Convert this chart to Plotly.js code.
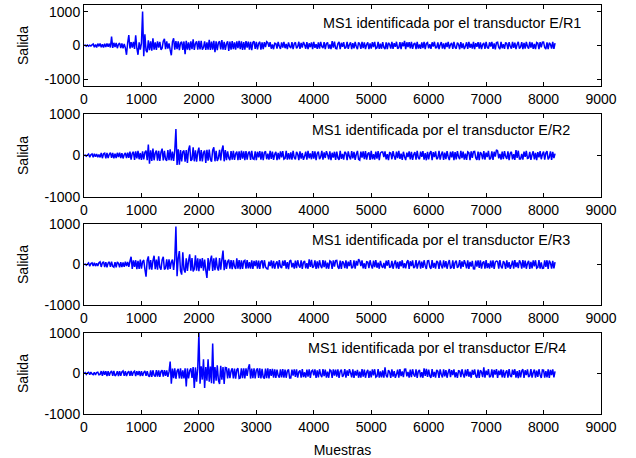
<!DOCTYPE html>
<html>
<head>
<meta charset="utf-8">
<script src="https://cdn.plot.ly/plotly-3.0.1.min.js"></script>
<style>html,body{margin:0;padding:0;background:#fff;}#chart{width:636px;height:458px;}</style>
</head>
<body>
<div id="chart"></div>
<script>
// Values every 20 samples
const sampleStart = 0;
const sampleStep = 20;

const panelTitles = [
  "MS1 identificada por el transductor E/R1",
  "MS1 identificada por el transductor E/R2",
  "MS1 identificada por el transductor E/R3",
  "MS1 identificada por el transductor E/R4"
];
const xTickVals = [0,1000,2000,3000,4000,5000,6000,7000,8000,9000];
const yTickVals = [-1000,0,1000];
const xLabel = "Muestras";
const yLabel = "Salida";

const salidaER1 = [
0,12,-18,15,-20,10,-15,18,45,-50,30,-60,55,-25,60,-55,40,-60,50,-45,
60,-35,55,-60,265,-70,80,-45,75,-80,35,70,-75,60,-80,45,-70,-275,80,310,
-90,100,-60,110,-100,300,-80,-275,95,-120,60,1010,-320,330,-150,-200,150,-140,120,-150,
215,-120,90,-130,120,-60,110,-125,-80,130,200,-110,120,-95,60,-130,-290,110,215,-120,
130,-110,125,-135,70,110,-130,120,-255,140,-120,90,-140,120,-110,180,-130,60,125,-120,
135,-115,140,-125,-60,120,-130,95,-120,170,-130,115,-125,135,-200,120,-140,80,125,-115,
160,-120,110,-130,50,125,-160,115,-120,130,-110,90,-125,120,-75,135,-110,125,-130,100,
-120,130,-60,115,-125,110,-140,90,125,-100,105,-115,60,110,-120,95,-105,100,-50,115,
85,-40,100,-95,30,-110,70,60,-90,105,-20,-100,95,-65,110,-80,45,-105,90,-30,
-75,100,-110,50,95,-85,-35,110,-100,75,-60,105,20,-95,100,-110,65,-50,90,-105,
110,-70,40,-100,95,-90,105,-25,-80,100,-110,55,90,-95,35,-105,130,-60,115,-85,
-95,60,105,-110,80,-40,100,-90,-55,110,-100,25,95,-105,70,-85,105,-30,-110,90,
45,-100,110,-80,95,-105,30,90,-110,65,-95,100,-45,105,-90,-70,110,-100,55,-95,
100,-60,-105,95,-110,80,35,-90,105,-100,70,-40,110,-95,-65,100,-105,90,-25,135,
-110,95,-50,100,-85,105,-100,40,75,-105,110,-90,30,-100,95,-75,105,-110,60,85,
-85,40,-100,95,-30,110,-70,-60,90,-105,20,100,-95,65,-110,80,-45,105,-90,30,
75,-100,110,-50,-95,85,35,-110,100,-75,60,-105,-20,95,-100,110,-65,50,-90,105,
-110,70,-40,100,-95,90,-105,25,80,-100,110,-55,-90,95,-35,105,-100,60,-115,85,
95,-60,-105,110,-80,40,-100,90,55,-110,100,-25,-95,105,-70,85,-105,30,110,-90,
-45,100,-110,80,-95,105,-30,-90,110,-65,95,-100,45,-105,90,70,-110,100,-55,95,
100,-60,-105,95,-110,80,35,-90,105,-100,70
];

const salidaER2 = [
0,10,-15,12,35,-40,20,38,-42,40,-30,35,-40,25,-45,60,-65,40,55,-70,
65,-60,30,70,-55,65,-70,45,-60,65,-35,70,-60,55,-70,20,60,-65,70,-55,
95,-100,50,90,-105,100,-70,110,-90,60,-105,100,-95,75,120,-110,265,-200,125,-130,
170,-115,60,120,-125,110,-130,80,165,-120,115,-90,-125,130,-110,150,-120,95,-130,115,
640,-230,150,-220,130,-140,90,120,-150,130,-180,140,240,-130,-95,200,-140,125,-150,80,
190,-135,130,-145,70,120,-180,135,-125,140,-90,-150,130,200,-140,110,-130,-60,135,-120,
130,240,-140,130,-110,100,-60,-115,105,-100,110,-105,40,95,-110,100,-105,115,-75,100,
-110,105,-100,60,95,-105,110,-80,-95,100,-110,90,-45,105,-100,95,-110,70,100,-90,
45,-100,110,-80,95,-105,30,90,-110,65,-95,100,-45,105,-90,-70,110,-100,55,-95,
75,-100,110,-50,-95,85,35,-110,100,-75,60,-105,-20,95,-100,110,-65,50,-90,105,
-75,100,-110,50,95,-85,-35,110,-100,75,-60,105,20,-95,100,-110,65,-50,90,-105,
95,-60,-105,110,-80,40,-100,90,55,-110,100,-25,-95,105,-70,85,-105,30,110,-90,
-110,95,-50,100,-85,105,-100,40,75,-105,110,-90,30,-100,95,-75,105,-110,60,85,
85,-40,100,-95,30,-110,70,60,-90,105,-20,-100,95,-65,110,-80,45,-105,90,-30,
-110,70,-40,100,-95,90,-105,25,80,-100,110,-55,-90,95,-35,105,-100,60,-115,85,
-95,60,105,-110,80,-40,100,-90,-55,110,-100,25,95,-105,70,-85,105,-30,-110,90,
-45,100,-110,80,-95,105,-30,-90,110,-65,95,-100,45,-105,90,70,-110,100,-55,95,
100,-60,-105,95,-110,80,35,-90,105,-100,70,-40,110,-95,-65,100,-105,90,-25,135,
110,-70,40,-100,95,-90,105,-25,-80,100,-110,55,90,-95,35,-105,130,-60,115,-85,
-85,40,-100,95,-30,110,-70,-60,90,-105,20,100,-95,65,-110,80,-45,105,-90,30,
95,-100,60,105,-95,-40,100,-105,90,-60,45
];

const salidaER3 = [
0,12,-15,10,38,-42,25,40,-38,42,-40,30,-35,42,65,-60,40,70,-65,60,
-70,35,65,-60,70,-45,-65,60,-68,65,30,-70,60,-65,50,-60,70,-40,65,-60,
80,190,-110,100,-60,105,-115,90,-110,120,-100,70,110,-115,-300,100,200,-120,110,-130,
90,215,-115,120,-125,200,-70,-130,115,190,-120,-90,125,-125,130,-110,60,120,-135,125,
940,-290,150,330,-160,-250,300,-120,-200,150,-160,90,250,-150,160,-170,-110,230,-155,150,
-165,140,-90,160,-150,120,-140,-330,160,-150,100,220,-160,150,-140,170,-75,-150,160,-130,
120,345,-140,115,-110,70,120,-105,110,-115,105,-50,-110,150,-100,110,-115,105,-110,80,
100,-105,110,-95,60,-100,105,-110,90,-40,100,-105,95,-110,70,100,-95,105,-60,-100,
-110,70,-40,100,-95,90,-105,25,80,-100,110,-55,-90,95,-35,105,-100,60,-115,85,
110,-70,40,-100,95,-90,105,-25,-80,100,-110,55,90,-95,35,-105,130,-60,115,-85,
-45,100,-110,80,-95,105,-30,-90,110,-65,95,-100,45,-105,90,70,-110,100,-55,95,
100,-60,-105,95,-110,80,35,-90,105,-100,70,-40,110,-95,-65,100,-105,90,-25,135,
85,-40,100,-95,30,-110,70,60,-90,105,-20,-100,95,-65,110,-80,45,-105,90,-30,
-85,40,-100,95,-30,110,-70,-60,90,-105,20,100,-95,65,-110,80,-45,105,-90,30,
-95,60,105,-110,80,-40,100,-90,-55,110,-100,25,95,-105,70,-85,105,-30,-110,90,
95,-60,-105,110,-80,40,-100,90,55,-110,100,-25,-95,105,-70,85,-105,30,110,-90,
-75,100,-110,50,95,-85,-35,110,-100,75,-60,105,20,-95,100,-110,65,-50,90,-105,
-110,95,-50,100,-85,105,-100,40,75,-105,110,-90,30,-100,95,-75,105,-110,60,85,
75,-100,110,-50,-95,85,35,-110,100,-75,60,-105,-20,95,-100,110,-65,50,-90,105,
45,-100,110,-80,95,-105,30,90,-110,65,-95,100,-45,105,-90,-70,110,-100,55,-95,
-90,100,-60,105,-110,95,40,-100,90,-95,60
];

const salidaER4 = [
0,20,-25,15,30,-28,35,-10,-30,32,-35,25,35,-30,-20,60,-55,65,-30,55,
-65,60,-58,30,62,-55,65,-60,-25,58,-62,60,-55,40,65,-60,55,-65,20,60,
-58,62,-55,35,60,-65,58,-40,60,-62,55,-60,25,65,-58,60,-50,-80,75,-85,
80,-40,-75,85,-80,78,-82,50,80,-75,85,-60,75,-80,40,295,-250,120,-115,125,
-130,60,115,-120,130,-125,80,-120,130,-320,125,-120,70,130,-110,160,-360,150,-200,120,
1000,-250,180,-150,350,-360,160,-180,350,-200,170,-240,740,-250,160,-180,200,-170,-260,190,
-150,160,-260,150,140,-120,125,-115,60,130,-120,120,-125,90,130,-120,-110,125,-115,130,
-120,125,-60,130,230,-125,120,-115,130,-120,80,125,-110,130,-120,115,-90,-125,120,-115,
125,-120,110,-60,115,-105,100,-110,95,-50,-100,105,-95,110,-100,95,-105,60,100,-110,
-110,95,-50,100,-85,105,-100,40,75,-105,110,-90,30,-100,95,-75,105,-110,60,85,
-45,100,-110,80,-95,105,-30,-90,110,-65,95,-100,45,-105,90,70,-110,100,-55,95,
-75,100,-110,50,95,-85,-35,110,-100,75,-60,105,20,-95,100,-110,65,-50,90,-105,
45,-100,110,-80,95,-105,30,90,-110,65,-95,100,-45,105,-90,-70,110,-100,55,-95,
75,-100,150,-50,-95,85,35,-110,100,-75,60,-105,-20,95,-100,110,-65,50,-90,105,
110,-70,40,-100,95,-90,105,-25,-80,100,-110,55,90,-95,35,-105,130,-60,115,-85,
95,-60,-105,110,-80,40,-100,90,55,-110,100,-25,-95,105,-70,85,-105,30,110,-90,
85,-40,100,-95,30,-110,70,60,-90,105,-20,-100,95,-65,110,-80,45,-105,90,-30,
100,-60,-105,95,-110,80,35,-90,150,-100,70,-40,110,-95,-65,100,-105,90,-25,110,
-110,70,-40,100,-95,90,-105,25,80,-100,110,-55,-90,95,-35,105,-100,60,-115,85,
-95,60,105,-110,80,-40,100,-90,-55,110,-100,25,95,-105,70,-85,105,-30,-110,90,
85,-100,60,-95,105,-110,90,-40,100,-95,50
];

const series = [salidaER1, salidaER2, salidaER3, salidaER4];
const yRanges = [[-1200,1200],[-1000,1000],[-1000,1000],[-1000,1000]];

// layout geometry (pixels in the 636x458 frame)
const W = 636, H = 458;
const plotLeft = 84, plotRight = 601;
const panelTops = [5, 114, 224, 333];
const panelBottoms = [86, 197, 305, 414];
const titleX = [4130, 3930, 3930, 3860];
const titleY = [676, 614, 610, 622];

const font = {family: "Arial, 'Liberation Sans', sans-serif", size: 14, color: "#000"};
const titleFont = {family: "Arial, 'Liberation Sans', sans-serif", size: 14.4, color: "#000"};

const traces = series.map((vals, k) => ({
  type: "scatter",
  mode: "lines",
  y: vals,
  x0: sampleStart,
  dx: sampleStep,
  xaxis: k === 0 ? "x" : "x" + (k + 1),
  yaxis: k === 0 ? "y" : "y" + (k + 1),
  line: {color: "#0000ff", width: 1.5, simplify: false},
  hoverinfo: "skip"
}));

const layout = {
  width: W, height: H,
  margin: {l: 0, r: 0, t: 0, b: 0, pad: 0},
  paper_bgcolor: "#ffffff",
  plot_bgcolor: "#ffffff",
  showlegend: false,
  font: font,
  annotations: []
};

for (let k = 0; k < 4; k++) {
  const xa = k === 0 ? "xaxis" : "xaxis" + (k + 1);
  const ya = k === 0 ? "yaxis" : "yaxis" + (k + 1);
  const yref = k === 0 ? "y" : "y" + (k + 1);
  const xref = k === 0 ? "x" : "x" + (k + 1);
  layout[xa] = {
    domain: [plotLeft / W, plotRight / W],
    range: [0, 9000],
    tickvals: xTickVals,
    ticktext: xTickVals.map(String),
    ticks: "inside", ticklen: 4, tickwidth: 1, tickcolor: "#000",
    showline: true, linecolor: "#000", linewidth: 1, mirror: "ticks",
    showgrid: false, zeroline: false,
    anchor: yref,
    tickfont: font,
    fixedrange: true
  };
  if (k === 3) {
    layout[xa].title = {text: xLabel, font: font, standoff: 12};
  }
  layout[ya] = {
    domain: [1 - panelBottoms[k] / H, 1 - panelTops[k] / H],
    range: yRanges[k],
    tickvals: yTickVals,
    ticktext: yTickVals.map(String),
    ticks: "inside", ticklen: 4, tickwidth: 1, tickcolor: "#000",
    showline: true, linecolor: "#000", linewidth: 1, mirror: "ticks",
    showgrid: false, zeroline: false,
    anchor: xref,
    tickfont: font,
    title: {text: yLabel, font: font, standoff: 12},
    fixedrange: true
  };
  layout.annotations.push({
    xref: xref, yref: yref,
    x: titleX[k], y: titleY[k],
    xanchor: "left", yanchor: "middle",
    text: panelTitles[k],
    showarrow: false,
    font: titleFont
  });
}

Plotly.newPlot("chart", traces, layout, {displayModeBar: false, staticPlot: true});
</script>
</body>
</html>
